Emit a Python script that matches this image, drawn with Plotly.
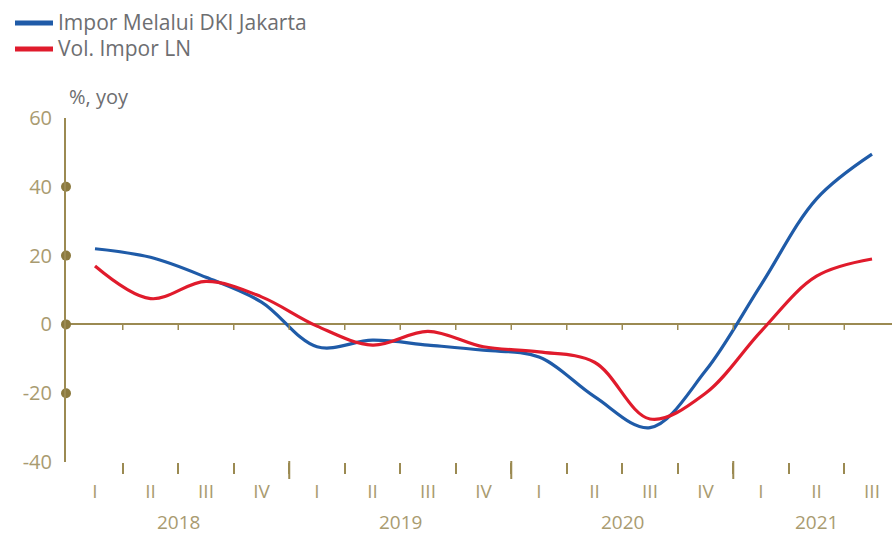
import plotly.graph_objects as go

quarters = ["I", "II", "III", "IV", "I", "II", "III", "IV", "I", "II", "III", "IV", "I", "II", "III"]
years = ["2018", "2019", "2020", "2021"]
year_centers = [1.5, 5.5, 9.5, 13]
year_bounds = [3.5, 7.5, 11.5]
impor_dki = [22, 19.5, 13.7, 6.5, -6.5, -4.6, -6, -7.5, -9.5, -21, -30, -13.5, 11.5, 36.5, 49.5]
vol_impor_ln = [17, 7.5, 12.5, 8, -0.5, -6, -2, -6.5, -8, -11, -27.5, -20, -2, 14, 19]
series_names = ["Impor Melalui DKI Jakarta", "Vol. Impor LN"]
y_ticks = [-40, -20, 0, 20, 40, 60]
y_ticktext = ["-40", "-20", "0", "20", "40", "60"]
y_dots = [-20, 0, 20, 40]

AXIS = "#9b8a52"
DOT = "#8c7a3e"
LABEL = "#a99b70"
TEXT = "#6d6e71"
BLUE = "#1f5ba8"
RED = "#e01b2c"
colors = [BLUE, RED]

W, H = 892, 535
L, R, T, B = 66, 0, 118, 73
PW, PH = W - L - R, H - T - B


def px_x(p):
    return (p - L) / PW


def px_y(p):
    return (H - B - p) / PH


x = list(range(len(quarters)))
xmin, xmax = -0.5225, 14.36

fig = go.Figure()
for name, vals, c in zip(series_names, [impor_dki, vol_impor_ln], colors):
    fig.add_trace(go.Scatter(x=x, y=vals, mode="lines", name=name, showlegend=False,
                             line=dict(color=c, width=3.2, shape="spline", smoothing=1)))
fig.add_trace(go.Scatter(x=[xmin] * len(y_dots), y=y_dots, mode="markers", showlegend=False,
                         marker=dict(color=DOT, size=10), cliponaxis=False, hoverinfo="skip"))

shapes = []
for b in [i + 0.5 for i in range(len(quarters) - 1)]:
    shapes.append(dict(type="line", xref="x", yref="y", x0=b, x1=b, y0=0, y1=-1.6,
                       line=dict(color=AXIS, width=1.5)))
for b in year_bounds:
    shapes.append(dict(type="line", xref="x", yref="paper", x0=b, x1=b, y0=px_y(461), y1=px_y(479),
                       line=dict(color=AXIS, width=2)))

annotations = [dict(text=yr, x=c, y=px_y(522), xref="x", yref="paper", showarrow=False,
                    font=dict(size=19, color=LABEL), yanchor="middle")
               for yr, c in zip(years, year_centers)]
annotations.append(dict(text="%, yoy", x=px_x(67), y=px_y(97), xref="paper", yref="paper",
                        showarrow=False, xanchor="left", yanchor="middle",
                        font=dict(size=20, color=TEXT)))

# manual legend
for i, (name, c) in enumerate(zip(series_names, colors)):
    yy = 23 + i * 26
    shapes.append(dict(type="line", xref="paper", yref="paper", x0=px_x(15), x1=px_x(53),
                       y0=px_y(yy), y1=px_y(yy), line=dict(color=c, width=5)))
    annotations.append(dict(text=name, x=px_x(56), y=px_y(yy - 1), xref="paper", yref="paper",
                            showarrow=False, xanchor="left", yanchor="middle",
                            font=dict(size=21, color=TEXT)))

fig.update_layout(
    width=W, height=H,
    margin=dict(l=L, r=R, t=T, b=B),
    paper_bgcolor="white", plot_bgcolor="white",
    font=dict(family="Open Sans", color=TEXT),
    shapes=shapes, annotations=annotations,
    showlegend=False,
    xaxis=dict(range=[xmin, xmax], tickmode="array", tickvals=x, ticktext=quarters,
               ticks="outside", ticklen=12, tickcolor="rgba(0,0,0,0)",
               tickfont=dict(size=19, color=LABEL), showgrid=False, zeroline=False, showline=False,
               minor=dict(tickmode="array", tickvals=[i + 0.5 for i in range(len(quarters) - 1)],
                          ticks="outside", ticklen=11, tickwidth=1.5, tickcolor=AXIS, showgrid=False)),
    yaxis=dict(range=[-40, 60], tickmode="array", tickvals=y_ticks, ticktext=y_ticktext,
               showgrid=False, zeroline=True, zerolinecolor=AXIS, zerolinewidth=2,
               showline=True, linecolor=AXIS, linewidth=2,
               ticks="outside", ticklen=8, tickcolor="rgba(0,0,0,0)",
               tickfont=dict(size=20, color=LABEL)),
)

fig.write_html("out.html")
